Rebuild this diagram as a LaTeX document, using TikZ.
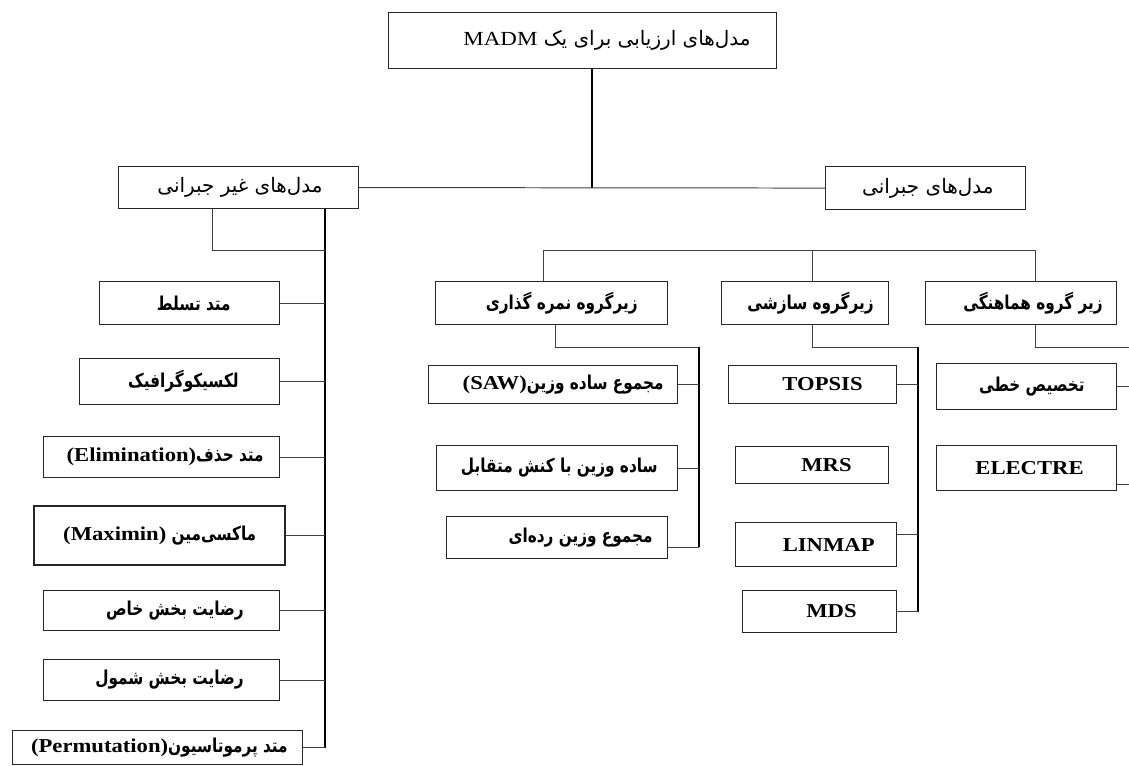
\documentclass[tikz,border=0pt]{standalone}
\usepackage{fontspec}
\setmainfont{Liberation Serif}[FakeStretch=1.15]
\newfontfamily\farsi[Script=Arabic, Scale=0.97, FakeStretch=0.8]{DejaVu Sans}
\newfontfamily\farsireg[Script=Arabic]{DejaVu Sans}
\TeXXeTstate=1
\newcommand{\fa}[1]{{\farsi\beginR#1\endR}}
\newcommand{\fh}[1]{{\farsireg\beginR#1\endR}}
\newcommand{\en}[1]{\beginL{\rmfamily#1}\endL}

\begin{document}
\begin{tikzpicture}[x=0.025cm, y=-0.025cm,
                    box/.style n args={3}{draw=black!85, line width=0.8pt, anchor=north west,
                        minimum height=#1, inner xsep=#3, inner ysep=0pt,
                        font=\bfseries\fontsize{14}{16}\selectfont,
                        execute at begin node={\hbox to #2\bgroup\hss},
                        execute at end node={\egroup}},
                    head/.style = {font=\mdseries\fontsize{14.2}{16}\selectfont},
                    link/.style = {draw=black!75, line width=0.7pt},
                    trunk/.style = {draw=black, line width=0.9pt}]
    \useasboundingbox (0,0) rectangle (1129,766);
    % top level
    \node[box={1.4cm}{8.4cm}{0.65cm}, head]    (top) at (388,12)  {\fh{مدل‌های ارزیابی برای یک \en{MADM}}};
    \node[box={1.05cm}{4.2cm}{0.9cm}, head]    (ng)  at (118,166) {\fh{مدل‌های غیر جبرانی}};
    \node[box={1.075cm}{3.4cm}{0.8cm}, head]   (g)   at (825,166) {\fh{مدل‌های جبرانی}};
    % non compensatory
    \node[box={1.075cm}{2.05cm}{1.225cm}]      (tasallot) at (99,281) {\fa{متد تسلط}};
    \node[box={1.15cm}{2.95cm}{1.025cm}]       (lex)      at (79,358) {\fa{لکسیکوگرافیک}};
    \node[box={1.025cm}{5.1cm}{0.4cm}]         (elim)     at (43,436) {\fa{متد حذف\en{(Elimination)}}};
    \node[box={1.475cm}{4.825cm}{0.725cm}, line width=1.6pt] (maximin) at (33,505) {\fa{ماکسی‌مین \en{(Maximin)}}};
    \node[box={1.0cm}{4.1cm}{0.9cm}]           (khas)     at (43,590) {\fa{رضایت بخش خاص}};
    \node[box={1.025cm}{4.1cm}{0.9cm}]         (shomul)   at (43,659) {\fa{رضایت بخش شمول}};
    \node[box={0.85cm}{6.5cm}{0.375cm}]        (perm)     at (12,730) {\fa{متد پرموتاسیون\en{(Permutation)}}};
    % compensatory groups
    \node[box={1.075cm}{4.3cm}{0.75cm}]        (sub1) at (435,281) {\fa{زیرگروه نمره گذاری}};
    \node[box={1.075cm}{3.425cm}{0.375cm}]     (sub2) at (721,281) {\fa{زیرگروه سازشی}};
    \node[box={1.075cm}{4.075cm}{0.35cm}]      (sub3) at (925,281) {\fa{زیر گروه هماهنگی}};
    % scoring
    \node[box={0.95cm}{5.525cm}{0.35cm}]       (saw)    at (428,365) {\fa{مجموع ساده وزین\en{(SAW)}}};
    \node[box={1.125cm}{5.025cm}{0.5cm}]       (inter)  at (436,445) {\fa{ساده وزین با کنش متقابل}};
    \node[box={1.05cm}{4.775cm}{0.375cm}]      (ranked) at (446,516) {\fa{مجموع وزین رده‌ای}};
    % compromise
    \node[box={0.95cm}{2.5cm}{0.85cm}]         (topsis) at (728,365) {TOPSIS};
    \node[box={0.925cm}{1.975cm}{0.925cm}]     (mrs)    at (735,446) {MRS};
    \node[box={1.1cm}{2.925cm}{0.55cm}]        (linmap) at (735,522) {LINMAP};
    \node[box={1.05cm}{1.85cm}{1.0cm}]         (mds)    at (742,590) {MDS};
    % coordination
    \node[box={1.15cm}{2.9cm}{0.8cm}]          (linear)  at (936,363) {\fa{تخصیص خطی}};
    \node[box={1.125cm}{2.85cm}{0.825cm}]      (electre) at (936,445) {ELECTRE};

    % main branch
    \draw[trunk] (top.south -| 592,0) -- (592,0 |- ng.east);
    \draw[link] (ng.east) -- (g.west);
    % left column
    \coordinate (lt) at (325,0);
    \draw[trunk] (ng.south -| lt) -- (lt |- perm.east);
    \draw[link] (ng.south -| 212,0) |- (lt |- 0,250);
    \foreach \n in {tasallot,lex,elim,maximin,khas,shomul,perm}
        \draw[link] (\n.east) -- (\n.east -| lt);
    % groups bracket
    \coordinate (c1) at (543,250);
    \coordinate (c2) at (812,250);
    \coordinate (c3) at (1035,250);
    \draw[link] (c1 |- sub1.north) -- (c1) -- (c3) -- (c3 |- sub3.north);
    \draw[link] (c2) -- (c2 |- sub2.north);
    % scoring branch
    \coordinate (st) at (699,347);
    \coordinate (r1) at ([yshift=0.3cm]ranked.south east);
    \draw[link] (sub1.south -| 555,0) |- (st);
    \draw[trunk] (st) -- (st |- r1);
    \draw[link] (saw.east) -- (saw.east -| st);
    \draw[link] (inter.east) -- (inter.east -| st);
    \draw[link] (r1) -- (r1 -| st);
    % compromise branch
    \coordinate (ct) at (918,347);
    \coordinate (l1) at ([yshift=0.25cm]linmap.east);
    \draw[link] (sub2.south -| 812,0) |- (ct);
    \draw[trunk] (ct) -- (ct |- mds.east);
    \draw[link] (topsis.east) -- (topsis.east -| ct);
    \draw[link] (l1) -- (l1 -| ct);
    \draw[link] (mds.east) -- (mds.east -| ct);
    % coordination branch
    \coordinate (ht) at (1129,347);
    \coordinate (e1) at ([yshift=-0.4cm]electre.east);
    \draw[link] (sub3.south -| 1035,0) |- (ht);
    \draw[link] (linear.east) -- (linear.east -| ht);
    \draw[link] (e1) -- (e1 -| ht);
\end{tikzpicture}
\end{document}
